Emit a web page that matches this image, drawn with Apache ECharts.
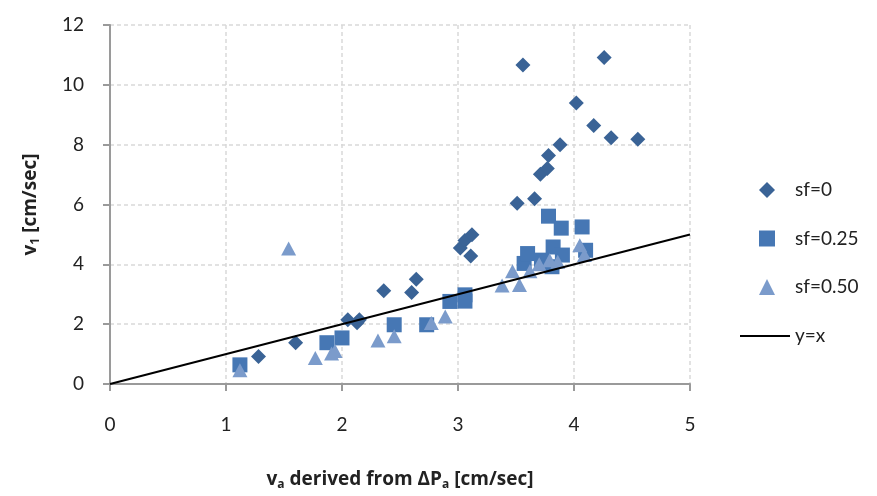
<!DOCTYPE html>
<html><head><meta charset="utf-8">
<script src="https://cdn.jsdelivr.net/npm/echarts@6/dist/echarts.min.js"></script>
<style>html,body{margin:0;padding:0;background:#fff}#c{width:877px;height:496px}</style>
</head><body><div id="c"></div>
<script>
var sf0 = [[1.28,0.92],[1.60,1.38],[2.05,2.15],[2.13,2.05],[2.15,2.15],[2.36,3.12],[2.60,3.06],[2.64,3.50],[3.02,4.55],[3.06,4.80],[3.12,4.99],[3.11,4.28],[3.51,6.04],[3.66,6.19],[3.71,7.01],[3.77,7.20],[3.78,7.64],[3.88,8.00],[3.56,10.66],[4.26,10.91],[4.02,9.39],[4.17,8.64],[4.32,8.23],[4.55,8.18]];
var sf25 = [[1.12,0.64],[1.87,1.38],[2.00,1.54],[2.45,1.98],[2.73,1.98],[2.93,2.76],[3.06,2.98],[3.06,2.77],[3.57,4.03],[3.60,4.36],[3.72,4.14],[3.78,5.61],[3.81,3.92],[3.82,4.58],[3.89,5.21],[3.90,4.31],[4.07,5.25],[4.10,4.47]];
var sf50 = [[1.12,0.46],[1.54,4.53],[1.77,0.87],[1.91,1.02],[1.94,1.10],[2.31,1.45],[2.45,1.60],[2.77,2.04],[2.89,2.26],[3.38,3.29],[3.47,3.77],[3.53,3.31],[3.62,3.77],[3.70,4.00],[3.79,4.14],[3.86,4.09],[4.05,4.64],[4.09,4.31]];
var lineYX = [[0,0],[5,5]];
var seriesNames = ['sf=0','sf=0.25','sf=0.50','y=x'];

var FONT = 'Lato, "Open Sans", sans-serif';
var BFONT = '"Open Sans", sans-serif';
var chart = echarts.init(document.getElementById('c'), null, {renderer:'canvas'});
chart.setOption({
  animation:false,
  textStyle:{fontFamily:FONT},
  grid:{left:110,right:187,top:25,bottom:109,containLabel:false},
  legend:[{
    data:[seriesNames[0],seriesNames[1],seriesNames[2]],
    orient:'vertical', left:754, top:175, itemWidth:16, itemHeight:16, itemGap:28.5,
    textStyle:{fontFamily:FONT,fontSize:19,color:'#222',lineHeight:20,padding:[0,0,0,15]}
  },{
    data:[{name:seriesNames[3],icon:'rect'}],
    orient:'vertical', left:735, top:321, itemWidth:50, itemHeight:2,
    itemStyle:{color:'#000'},
    textStyle:{fontFamily:FONT,fontSize:19,color:'#222',lineHeight:20}
  }],
  xAxis:{
    type:'value', min:0, max:5, interval:1,
    name:'{b|v}{s|a}{b| derived from ΔP}{s|a}{b| [cm/sec]}',
    nameLocation:'middle', nameGap:85,
    nameTextStyle:{rich:{
      b:{fontFamily:BFONT,fontSize:19,fontWeight:'bold',color:'#222'},
      s:{fontFamily:BFONT,fontSize:12,fontWeight:'bold',color:'#222',verticalAlign:'bottom',padding:[10,0,0,0]}
    }},
    axisLine:{show:true,onZero:false,lineStyle:{color:'#9a9a9a',width:2}},
    axisTick:{show:true,length:7,lineStyle:{color:'#9a9a9a',width:2}},
    axisLabel:{fontFamily:FONT,fontSize:19,color:'#222',margin:31},
    splitLine:{show:true,lineStyle:{color:'#d9d9d9',type:[4,3],width:1.5}}
  },
  yAxis:{
    type:'value', min:0, max:12, interval:2,
    name:'{b|v}{s|1}{b| [cm/sec]}',
    nameLocation:'middle', nameGap:68, nameRotate:90,
    nameTextStyle:{rich:{
      b:{fontFamily:BFONT,fontSize:19,fontWeight:'bold',color:'#222'},
      s:{fontFamily:BFONT,fontSize:12,fontWeight:'bold',color:'#222',verticalAlign:'bottom',padding:[10,0,0,0]}
    }},
    axisLine:{show:true,lineStyle:{color:'#9a9a9a',width:2}},
    axisTick:{show:true,length:7,lineStyle:{color:'#9a9a9a',width:2}},
    axisLabel:{fontFamily:FONT,fontSize:19,color:'#222',margin:26},
    splitLine:{show:true,lineStyle:{color:'#d9d9d9',type:[4,3],width:1.5}}
  },
  series:[
    {name:seriesNames[0],type:'scatter',data:sf0,symbol:'diamond',symbolSize:15,itemStyle:{color:'#3a6396',opacity:1},z:3},
    {name:seriesNames[1],type:'scatter',data:sf25,symbol:'rect',symbolSize:15,itemStyle:{color:'#4677b4',opacity:1},z:3},
    {name:seriesNames[2],type:'scatter',data:sf50,symbol:'triangle',symbolSize:[15,14],itemStyle:{color:'#7b9bcb',opacity:1},z:3},
    {name:seriesNames[3],type:'line',data:lineYX,symbol:'none',lineStyle:{color:'#000',width:2},itemStyle:{color:'#000'},z:4}
  ]
});
</script></body></html>
